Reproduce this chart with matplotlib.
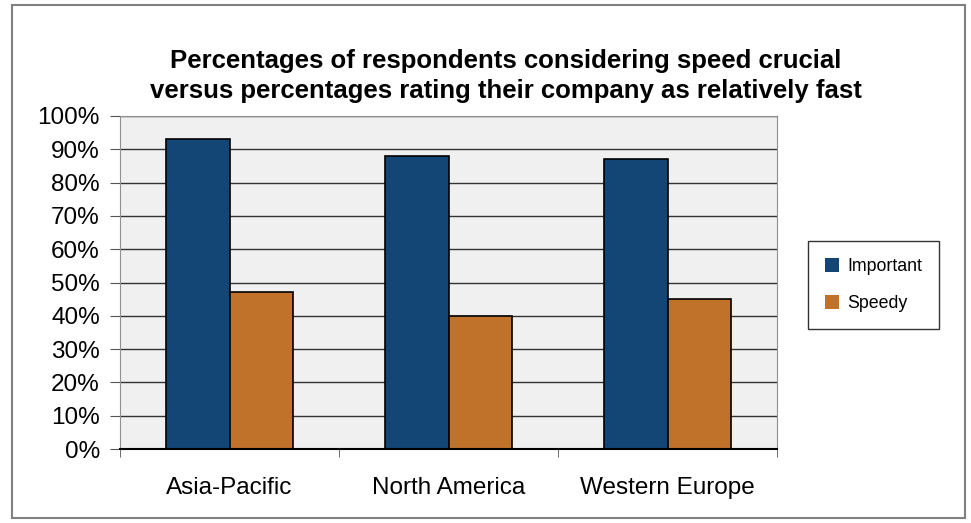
import numpy as np
import matplotlib.pyplot as plt
from matplotlib.patches import Rectangle
from matplotlib.ticker import FixedLocator, PercentFormatter

regions = ["Asia-Pacific", "North America", "Western Europe"]
important = [93, 88, 87]
speedy = [47, 40, 45]

plt.rcParams['font.family'] = ['Liberation Sans', 'DejaVu Sans']

fig = plt.figure(figsize=(9.71, 5.23), dpi=100)
fig.patches.append(Rectangle((12 / 971, 5 / 523), 953 / 971, 513 / 523,
                             transform=fig.transFigure, fill=False,
                             edgecolor='#808080', linewidth=1.5))

ax = fig.add_axes([120 / 971, 1 - 449 / 523, 657 / 971, 333 / 523])
ax.set_facecolor('#F0F0F0')

x = np.arange(len(regions))
w = 0.288
ax.bar(x - w / 2, important, w, color='#134675', edgecolor='black',
       linewidth=1.2, label='Important', zorder=3)
ax.bar(x + w / 2, speedy, w, color='#C0722B', edgecolor='black',
       linewidth=1.2, label='Speedy', zorder=3)

ax.set_xlim(-0.5, 2.5)
ax.set_ylim(0, 100)
ax.set_yticks(np.arange(0, 101, 10))
ax.yaxis.set_major_formatter(PercentFormatter(decimals=0))
ax.yaxis.grid(True, color='#333333', linewidth=1, zorder=0)
ax.set_xticks(x)
ax.set_xticklabels(regions)
ax.xaxis.set_minor_locator(FixedLocator([-0.5, 0.5, 1.5, 2.5]))
ax.tick_params(axis='x', which='major', length=0, pad=20, labelsize=17.5)
ax.tick_params(axis='x', which='minor', length=6, color='#555555')
ax.tick_params(axis='y', length=7, color='#555555', labelsize=17.5, pad=7.5)

for side in ['left', 'top', 'right']:
    ax.spines[side].set_color('#909090')
ax.spines['bottom'].set_color('black')
ax.spines['bottom'].set_linewidth(1.5)
ax.spines['bottom'].set_zorder(4)

fig.text(0.521, 1 - 76 / 523,
         "Percentages of respondents considering speed crucial\n"
         "versus percentages rating their company as relatively fast",
         ha='center', va='center', fontsize=18.5, fontweight='bold',
         linespacing=1.3)

leg = fig.legend(loc='upper left', bbox_to_anchor=(808 / 971, 1 - 241 / 523),
                 fontsize=12.8, frameon=True, fancybox=False, edgecolor='black',
                 handlelength=0.8, handleheight=0.8, labelspacing=1.15,
                 borderpad=0.95, handletextpad=0.45, borderaxespad=0)
leg.get_frame().set_linewidth(1)
for h in leg.legend_handles:
    h.set_edgecolor('none')

fig.savefig('out.png', dpi=100)
